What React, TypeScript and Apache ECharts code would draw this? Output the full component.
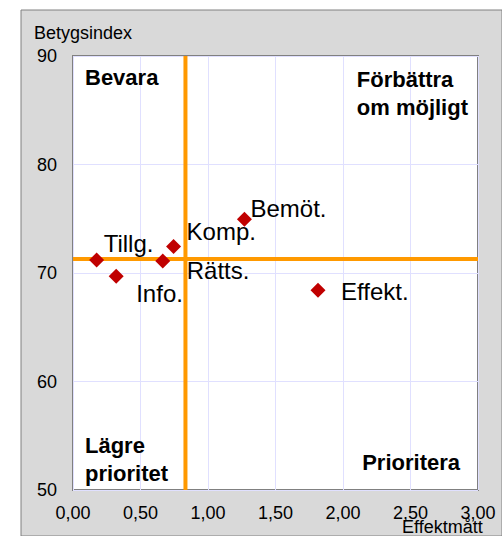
import React, { useEffect, useRef } from "react";
import * as echarts from "echarts";

const pointNames = ["Tillg.", "Info.", "Rätts.", "Komp.", "Bemöt.", "Effekt."];
const effektValues = [0.175, 0.32, 0.665, 0.745, 1.27, 1.815];
const betygValues = [71.2, 69.7, 71.1, 72.45, 74.95, 68.4];
const labelOffsets: [number, number][] = [
  [7, -16],
  [20, 17],
  [24, 9],
  [13, -15],
  [6, -11],
  [23, 1],
];
const meanEffekt = 0.833;
const meanBetyg = 71.3;
const xTicks = { min: 0, max: 3, interval: 0.5 };
const yTicks = { min: 50, max: 90, interval: 10 };

const FONT = "'Liberation Sans', Arial, sans-serif";

export default function App() {
  const ref = useRef<HTMLDivElement>(null);
  useEffect(() => {
    if (!ref.current) return;
    const chart = echarts.init(ref.current, undefined, { renderer: "svg" });
    const data = pointNames.map((n, i) => ({
      value: [effektValues[i], betygValues[i]],
      name: n,
      label: { offset: labelOffsets[i] },
    }));
    chart.setOption({
      animation: false,
      backgroundColor: "#ffffff",
      textStyle: { fontFamily: FONT },
      grid: [
        {
          left: 21,
          top: 10,
          width: 500,
          height: 540,
          show: true,
          backgroundColor: "#d9d9d9",
          borderColor: "#808080",
          borderWidth: 1,
          z: 0,
        },
        {
          left: 73,
          top: 56,
          width: 405,
          height: 434,
          show: true,
          backgroundColor: "#ffffff",
          borderColor: "#808080",
          borderWidth: 2,
          z: 2,
        },
      ],
      graphic: [
        {
          type: "text",
          z: 10,
          left: 34,
          top: 24,
          style: { text: "Betygsindex", font: `18px ${FONT}`, fill: "#000" },
        },
        {
          type: "text",
          z: 10,
          left: 402,
          top: 518,
          style: { text: "Effektmått", font: `18px ${FONT}`, fill: "#000" },
        },
        {
          type: "text",
          z: 10,
          left: 85,
          top: 66,
          style: { text: "Bevara", font: `bold 22px ${FONT}`, fill: "#000" },
        },
        {
          type: "text",
          z: 10,
          right: 34,
          top: 65,
          style: {
            text: "Förbättra\nom möjligt",
            font: `bold 22px ${FONT}`,
            fill: "#000",
            align: "right",
            lineHeight: 28,
          },
        },
        {
          type: "text",
          z: 10,
          left: 85,
          top: 431,
          style: {
            text: "Lägre\nprioritet",
            font: `bold 22px ${FONT}`,
            fill: "#000",
            lineHeight: 28,
          },
        },
        {
          type: "text",
          z: 10,
          right: 42,
          top: 451,
          style: { text: "Prioritera", font: `bold 22px ${FONT}`, fill: "#000" },
        },
      ],
      xAxis: [
        { type: "value", gridIndex: 0, show: false, min: 0, max: 1 },
        {
          type: "value",
          gridIndex: 1,
          z: 3,
          min: xTicks.min,
          max: xTicks.max,
          interval: xTicks.interval,
          axisLine: { show: false },
          axisTick: { show: false },
          splitLine: { show: true, lineStyle: { color: "#e0e0ff", width: 1 } },
          axisLabel: {
            fontSize: 18,
            color: "#000",
            fontFamily: FONT,
            margin: 14,
            showMinLabel: true,
            showMaxLabel: true,
            formatter: (v: number) => v.toFixed(2).replace(".", ","),
          },
        },
      ],
      yAxis: [
        { type: "value", gridIndex: 0, show: false, min: 0, max: 1 },
        {
          type: "value",
          gridIndex: 1,
          z: 3,
          min: yTicks.min,
          max: yTicks.max,
          interval: yTicks.interval,
          axisLine: { show: false },
          axisTick: { show: false },
          splitLine: { show: true, lineStyle: { color: "#e0e0ff", width: 1 } },
          axisLabel: {
            fontSize: 18,
            color: "#000",
            fontFamily: FONT,
            margin: 16,
          },
        },
      ],
      series: [
        {
          type: "line",
          xAxisIndex: 1,
          yAxisIndex: 1,
          data: [
            [meanEffekt, yTicks.min],
            [meanEffekt, yTicks.max],
          ],
          symbol: "none",
          lineStyle: { color: "#ff9900", width: 4 },
          silent: true,
          z: 4,
        },
        {
          type: "line",
          xAxisIndex: 1,
          yAxisIndex: 1,
          data: [
            [xTicks.min, meanBetyg],
            [xTicks.max, meanBetyg],
          ],
          symbol: "none",
          lineStyle: { color: "#ff9900", width: 4 },
          silent: true,
          z: 4,
        },
        {
          type: "scatter",
          xAxisIndex: 1,
          yAxisIndex: 1,
          symbol: "diamond",
          symbolSize: 15,
          itemStyle: { color: "#c00000", opacity: 1 },
          z: 5,
          data,
          label: {
            show: true,
            position: "inside",
            align: "left",
            verticalAlign: "middle",
            formatter: (p: any) => p.name,
            fontSize: 24,
            color: "#000",
            opacity: 1,
            fontFamily: FONT,
          },
        },
      ],
    });
    return () => chart.dispose();
  }, []);
  return (
    <div
      ref={ref}
      style={{ position: "fixed", left: 0, top: 0, width: 502, height: 536 }}
    />
  );
}
